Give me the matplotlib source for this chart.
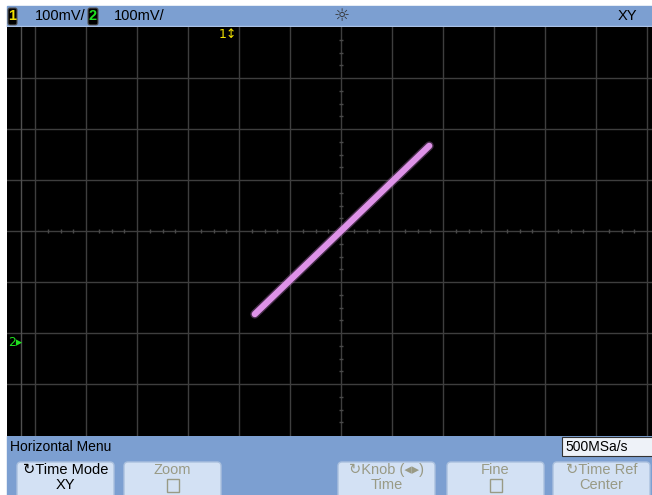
import matplotlib.pyplot as plt
from matplotlib.patches import Rectangle, FancyBboxPatch

# XY trace (mV, 100 mV/div on both channels)
ch1_mv = [-169, 173]
ch2_mv = [-163, 167]
volts_per_div = [100, 100]
sample_rate = '500MSa/s'
menu_title = 'Horizontal Menu'
softkeys = [('Time Mode', 'XY'), ('Zoom', None), ('', ''),
            ('Knob (\u25c2\u25b8)', 'Time'), ('Fine', None),
            ('Time Ref', 'Center')]

W, H = 652, 495
BLUE = '#7c9fd1'
KEY = '#d3e1f4'
GREY_TXT = '#999a85'
FONT = 'Liberation Sans'

fig = plt.figure(figsize=(W / 100, H / 100), dpi=100, facecolor='white')

# pixel-space layer for the instrument chrome
chrome = fig.add_axes([0, 0, 1, 1], zorder=0)
chrome.set_xlim(0, W)
chrome.set_ylim(H, 0)
chrome.set_axis_off()

# top status bar
chrome.add_patch(Rectangle((7, 6), W - 7, 20, color=BLUE))
chrome.plot([7, W], [25.5, 25.5], color='#a9c1e6', lw=1)
chrome.add_patch(FancyBboxPatch((8, 8), 9, 17, boxstyle='round,pad=0,rounding_size=2',
                                fc='black', ec='#555555', lw=0.8))
chrome.text(12.5, 16.5, '1', color='#f0e000', fontsize=10.5, ha='center', va='center',
            family=FONT, weight='bold')
chrome.text(35, 16.5, '%dmV/' % volts_per_div[0], color='black', fontsize=10.5,
            va='center', family=FONT)
chrome.add_patch(FancyBboxPatch((88, 8), 10, 17, boxstyle='round,pad=0,rounding_size=2',
                                fc='black', ec='#555555', lw=0.8))
chrome.text(93, 16.5, '2', color='#20e020', fontsize=10.5, ha='center', va='center',
            family=FONT, weight='bold')
chrome.text(114, 16.5, '%dmV/' % volts_per_div[1], color='black', fontsize=10.5,
            va='center', family=FONT)
chrome.text(342, 16.5, '\u263c', color='#333333', fontsize=13, ha='center', va='center',
            family='DejaVu Sans')
chrome.text(627, 16.5, 'XY', color='black', fontsize=10.5, ha='center', va='center',
            family=FONT)

# bottom menu area
chrome.add_patch(Rectangle((7, 436), W - 7, H - 436, color=BLUE))
chrome.text(10, 447, menu_title, color='black', fontsize=10, va='center', family=FONT)
chrome.add_patch(Rectangle((562, 437), 92, 19, fc='#eef2f8', ec='#333333', lw=0.8))
chrome.text(565, 447, sample_rate, color='black', fontsize=10, va='center', family=FONT)

key_x = [17, 124, 231, 338, 447, 553]
for i, (top, bottom) in enumerate(softkeys):
    if not top and not bottom:
        continue
    x0 = key_x[i]
    chrome.add_patch(FancyBboxPatch((x0, 462), 97, 40, boxstyle='round,pad=0,rounding_size=4',
                                    fc=KEY, ec='#aac0de', lw=1))
    col = 'black' if i == 0 else GREY_TXT
    cx = x0 + 48.5
    label = top
    if i in (0, 3, 5):
        label = '\u21bb' + top
    chrome.text(cx, 470, label, color=col, fontsize=10.5, ha='center', va='center',
                family=[FONT, 'DejaVu Sans'])
    if bottom is None:
        chrome.add_patch(Rectangle((cx - 6, 479), 12, 13, fc='none', ec=col, lw=1))
    else:
        chrome.text(cx, 485, bottom, color=col, fontsize=10.5, ha='center', va='center',
                    family=FONT)

# screen in volts: centre at pixel (341, 231), 51 px per division
div_px = 51.0
cx_px, cy_px = 341, 231
left_px, right_px, top_px, bot_px = 7, 652, 27, 436
scr = fig.add_axes([left_px / W, 1 - bot_px / H, (right_px - left_px) / W,
                    (bot_px - top_px) / H], zorder=1)
vx, vy = volts_per_div
scr.set_xlim((left_px - cx_px) / div_px * vx, (right_px - cx_px) / div_px * vx)
scr.set_ylim(-(bot_px - cy_px) / div_px * vy, (cy_px - top_px) / div_px * vy)
scr.set_facecolor('black')
scr.set_xticks([])
scr.set_yticks([])
for s in scr.spines.values():
    s.set_visible(False)

gcol = '#3e3e3e'
for k in range(-6, 7):
    scr.axvline(k * vx, color=gcol, lw=1)
for k in range(-3, 4):
    scr.axhline(k * vy, color=gcol, lw=1)
scr.axvline((21 - cx_px) / div_px * vx, color='#505050', lw=1)

# minor ticks along centre axes
minor_x = [k * vx / 4 for k in range(-24, 25) if k % 4]
minor_y = [k * vy / 4 for k in range(-16, 17) if k % 4]
scr.plot(minor_x, [0] * len(minor_x), ls='none', marker='|', ms=3, color='#4a4a4a')
scr.plot([0] * len(minor_y), minor_y, ls='none', marker='_', ms=3, color='#4a4a4a')

# channel ground markers
scr.text((228 - cx_px) / div_px * vx, (cy_px - 34) / div_px * vy, '1\u2195',
         color='#f0e000', fontsize=9, ha='center', va='center', family='DejaVu Sans')
scr.text((15 - cx_px) / div_px * vx, (cy_px - 343) / div_px * vy, '2\u25b8',
         color='#20e020', fontsize=9, ha='center', va='center', family='DejaVu Sans')

# XY trace
scr.plot(ch1_mv, ch2_mv, color='#c27ccc', lw=6.5, alpha=0.35, solid_capstyle='round')
scr.plot(ch1_mv, ch2_mv, color='#de92e8', lw=4.5, solid_capstyle='round')

fig.savefig('out.png', dpi=100, facecolor='white')
